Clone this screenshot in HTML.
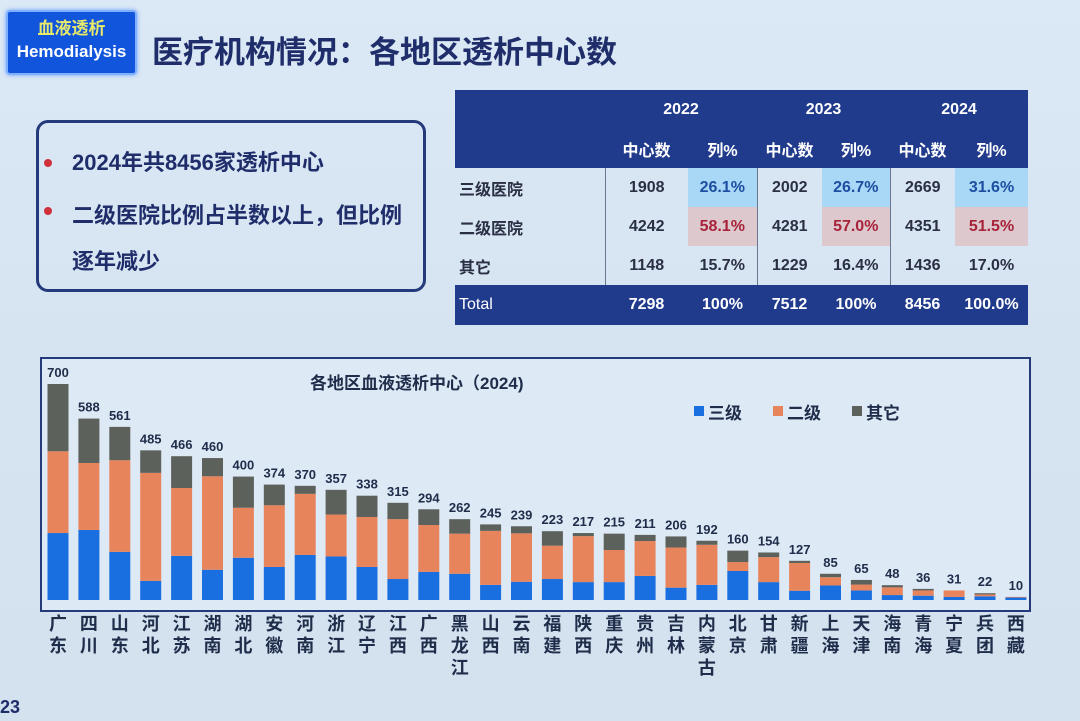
<!DOCTYPE html>
<html><head><meta charset="utf-8">
<style>
*{margin:0;padding:0;box-sizing:border-box}
body{width:1080px;height:721px;overflow:hidden;background:linear-gradient(180deg,#dbe8f5 0%,#d6e4f2 50%,#d4e1ee 100%);font-family:"Liberation Sans","Noto Sans CJK SC",sans-serif;position:relative}
.abs{position:absolute}
#badge{left:6px;top:10px;width:131px;height:65px;background:#1155dd;border:2px solid #7fb0ff;border-radius:4px;text-align:center;box-shadow:0 0 4px #6aa0ff}
#badge .cn{color:#e8ea6a;font-weight:bold;font-size:17px;margin-top:6px;line-height:22px}
#badge .en{color:#fff;font-weight:bold;font-size:17px;line-height:24px}
#title{left:152px;top:27px;font-size:31px;font-weight:bold;color:#1f2d6a}
#note{left:36px;top:120px;width:390px;height:172px;border:3px solid #243a7a;border-radius:12px}
.li{position:absolute;left:33px;font-size:22px;font-weight:bold;color:#1f2d6a}
.dot{position:absolute;left:5px;width:8px;height:8px;border-radius:50%;background:#d0303a}
table{position:absolute;left:455px;top:90px;width:573px;border-collapse:collapse;font-weight:bold;font-size:16px;color:#2a2f44}
td{text-align:center;height:39px}
.hd td{background:#213b8c;color:#fff}
.lab{text-align:left;padding-left:4px;width:150px}
.b{background:#a9d8f7;color:#1d4ea0}
.r{background:#dcc8cd;color:#a8233a}
.tot td{background:#213b8c;color:#fff;height:40px}
.vl{border-left:1px solid #6b7690}
</style></head><body>
<div id="badge" class="abs"><div class="cn">血液透析</div><div class="en">Hemodialysis</div></div>
<div id="title" class="abs">医疗机构情况：各地区透析中心数</div>
<div id="note" class="abs">
<span class="dot" style="top:36px"></span><div class="li" style="top:22px">2024年共8456家透析中心</div>
<span class="dot" style="top:84px"></span><div class="li" style="top:70px;line-height:46px;width:350px">二级医院比例占半数以上，但比例逐年减少</div>
</div>
<table>
<tr class="hd"><td class="lab"></td><td colspan="2">2022</td><td colspan="2">2023</td><td colspan="2">2024</td></tr>
<tr class="hd"><td class="lab"></td><td style="width:83px">中心数</td><td style="width:69px">列%</td><td style="width:65px">中心数</td><td style="width:68px">列%</td><td style="width:65px">中心数</td><td>列%</td></tr>
<tr><td class="lab">三级医院</td><td class="vl">1908</td><td class="b">26.1%</td><td class="vl">2002</td><td class="b">26.7%</td><td class="vl">2669</td><td class="b">31.6%</td></tr>
<tr><td class="lab">二级医院</td><td class="vl">4242</td><td class="r">58.1%</td><td class="vl">4281</td><td class="r">57.0%</td><td class="vl">4351</td><td class="r">51.5%</td></tr>
<tr><td class="lab">其它</td><td class="vl">1148</td><td>15.7%</td><td class="vl">1229</td><td>16.4%</td><td class="vl">1436</td><td>17.0%</td></tr>
<tr class="tot"><td class="lab" style="font-weight:normal">Total</td><td>7298</td><td>100%</td><td>7512</td><td>100%</td><td>8456</td><td>100.0%</td></tr>
</table>
<svg class="abs" style="left:0;top:0" width="1080" height="721" id="chart">
<rect x="41" y="358" width="989" height="253" fill="#dde9f5" stroke="#243a7a" stroke-width="2"/>
<text x="310" y="389" font-size="17" font-weight="bold" fill="#1f2d4a">各地区血液透析中心（2024)</text>
<g>
<rect x="694" y="406" width="10" height="10" fill="#1a6fe0"/><text x="708" y="419" font-size="17" font-weight="bold" fill="#1f2d4a">三级</text>
<rect x="773" y="406" width="10" height="10" fill="#e8845c"/><text x="787" y="419" font-size="17" font-weight="bold" fill="#1f2d4a">二级</text>
<rect x="852" y="406" width="10" height="10" fill="#5c615c"/><text x="866" y="419" font-size="17" font-weight="bold" fill="#1f2d4a">其它</text>
</g>
<g id="bars"></g>
</svg>
<div class="abs" style="left:0;top:697px;font-size:18px;font-weight:bold;color:#1f2d6a">23</div>
<script>
const regions=["广东","四川","山东","河北","江苏","湖南","湖北","安徽","河南","浙江","辽宁","江西","广西","黑龙江","山西","云南","福建","陕西","重庆","贵州","吉林","内蒙古","北京","甘肃","新疆","上海","天津","海南","青海","宁夏","兵团","西藏"];
const totals=[700,588,561,485,466,460,400,374,370,357,338,315,294,262,245,239,223,217,215,211,206,192,160,154,127,85,65,48,36,31,22,10];
const tertiary=[217,227,156,62,143,98,137,107,146,141,107,68,91,85,49,59,68,58,58,78,40,49,94,58,30,47,31,16,14,10,12,8];
const secondary=[265,217,297,350,220,303,162,200,198,136,162,194,152,130,175,157,108,149,104,113,130,130,29,81,90,27,19,25,17,21,6,2];
const svgNS="http://www.w3.org/2000/svg";
const g=document.getElementById('bars');
const baseY=600, yScale=v=>v*216/700;
const xPos=i=>58+i*30.9;
const bw=21;
function rect(x,y,w,h,fill,name){const r=document.createElementNS(svgNS,'rect');r.setAttribute('x',x);r.setAttribute('y',y);r.setAttribute('width',w);r.setAttribute('height',Math.max(0,h));r.setAttribute('fill',fill);


g.appendChild(r);}
regions.forEach((reg,i)=>{
  const x=xPos(i)-bw/2;
  const other=totals[i]-tertiary[i]-secondary[i];
  const h1=yScale(tertiary[i]),h2=yScale(secondary[i]),h3=yScale(Math.max(0,other));
  rect(x,baseY-h1,bw,h1,'#1a6fe0','bar-tertiary');
  rect(x,baseY-h1-h2,bw,h2,'#e8845c','bar-secondary');
  rect(x,baseY-h1-h2-h3,bw,h3,'#5c615c','bar-other');
  const t=document.createElementNS(svgNS,'text');
  t.setAttribute('x',xPos(i));t.setAttribute('y',baseY-yScale(totals[i])-7);t.setAttribute('text-anchor','middle');t.setAttribute('font-size','13');t.setAttribute('font-weight','bold');t.setAttribute('fill','#1f2d4a');
  t.textContent=totals[i];
  
  
  g.appendChild(t);
  [...reg].forEach((ch,k)=>{
    const c=document.createElementNS(svgNS,'text');
    c.setAttribute('x',xPos(i));c.setAttribute('y',630+k*22);c.setAttribute('text-anchor','middle');c.setAttribute('font-size','18');c.setAttribute('font-weight','bold');c.setAttribute('fill','#1f2d4a');
    c.textContent=ch;
    
    
    g.appendChild(c);
  });
});
</script>
</body></html>
